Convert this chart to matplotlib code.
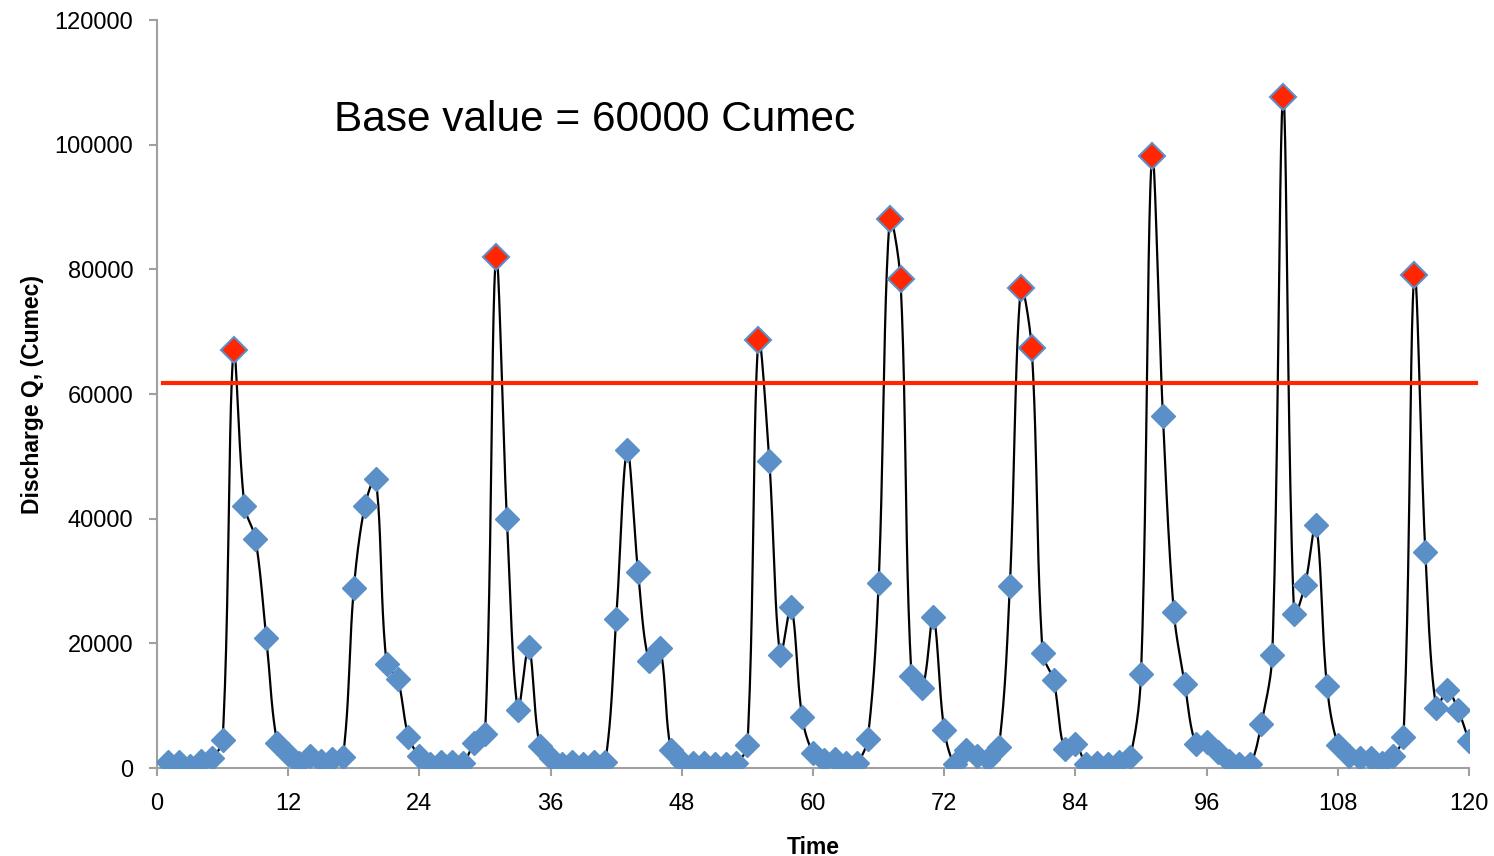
import numpy as np
import matplotlib
matplotlib.use("Agg")
import matplotlib.pyplot as plt

plt.rcParams['font.family'] = ['Liberation Sans', 'DejaVu Sans']

# discharge readings, one per time step (1..120)
time = list(range(1, 121))
discharge = [
    1000, 1000, 300, 1100, 1600, 4500, 67000, 42000, 36800, 20800,
    4000, 2200, 800, 1900, 1100, 1400, 1700, 28800, 42000, 46400,
    16700, 14300, 5000, 1900, 600, 1000, 1000, 800, 4000, 5400,
    82000, 40000, 9300, 19400, 3500, 1600, 600, 1000, 600, 1000,
    1000, 23900, 51000, 31400, 17200, 19300, 2900, 1000, 800, 800,
    600, 600, 800, 3700, 68700, 49300, 18100, 25800, 8200, 2400,
    1300, 1400, 800, 800, 4700, 29700, 88000, 78400, 14800, 12800,
    24200, 6100, 600, 2900, 1900, 1400, 3400, 29200, 77000, 67400,
    18400, 14100, 3000, 3900, 600, 800, 600, 1000, 1800, 15100,
    98200, 56500, 25000, 13500, 3900, 4200, 2600, 1100, 600, 600,
    7100, 18100, 107600, 24700, 29400, 39000, 13200, 3700, 1900, 1600,
    1600, 800, 1900, 5000, 79100, 34700, 9600, 12500, 9300, 4300,
]
base_line = 61700
base_text = "Base value = 60000 Cumec"
xticks = list(range(0, 121, 12))
yticks = list(range(0, 120001, 20000))


def smooth(x, y, sx, sy, n=24):
    # bezier through the points with tangents weighted by segment length
    # (measured on screen), which is roughly what excel does for smoothed lines
    P = np.column_stack([np.asarray(x, float) * sx, np.asarray(y, float) * sy])
    m = len(P)
    out = [P[0]]
    t = np.linspace(0, 1, n)[1:, None]
    for i in range(m - 1):
        p1, p2 = P[i], P[i + 1]
        p0 = P[i - 1] if i > 0 else p1
        p3 = P[i + 2] if i + 2 < m else p2
        d01 = np.hypot(*(p1 - p0))
        d12 = np.hypot(*(p2 - p1))
        d23 = np.hypot(*(p3 - p2))
        f1 = d12 / (d01 + d12) if d01 + d12 > 0 else 0
        f2 = d12 / (d12 + d23) if d12 + d23 > 0 else 0
        c1 = p1 + (p2 - p0) * f1 / 3
        c2 = p2 - (p3 - p1) * f2 / 3
        seg = ((1 - t) ** 3) * p1 + 3 * ((1 - t) ** 2) * t * c1 \
            + 3 * (1 - t) * t ** 2 * c2 + t ** 3 * p2
        out.extend(seg)
    out = np.array(out)
    return out[:, 0] / sx, out[:, 1] / sy


fig = plt.figure(figsize=(14.94, 8.56), dpi=100)
ax = fig.add_axes([0.1051, 0.1028, 0.8782, 0.8738])

# pixels per data unit, so the curve is shaped on screen
cx, cy = smooth(time, discharge, 1312 / 120, 748 / 120000)
ax.plot(cx, cy, color='black', lw=1.6, zorder=2)

t_arr = np.array(time)
q_arr = np.array(discharge)
low = q_arr <= base_line
ax.plot(t_arr[low], q_arr[low], ls='none', marker='D', ms=12,
        mfc='#5b8fc8', mec='#5b8fc8', zorder=3)
ax.plot(t_arr[~low], q_arr[~low], ls='none', marker='D', ms=13,
        mfc='#ff2600', mec='#5b8fc8', mew=1.5, zorder=4)

ax.plot([0.55, 120.6], [base_line, base_line], color='#ff2600', lw=3,
        zorder=5, clip_on=False)

ax.text(16.2, 104000, base_text, fontsize=30.5, va='center', ha='left')

ax.set_xlim(0, 120)
ax.set_ylim(0, 120000)
ax.set_xticks(xticks)
ax.set_yticks(yticks)
ax.tick_params(labelsize=17, color='#a0a0a0', length=6, width=1.5)
ax.tick_params(axis='y', pad=11)
ax.tick_params(axis='x', pad=12)
for s in ['top', 'right']:
    ax.spines[s].set_visible(False)
for s in ['left', 'bottom']:
    ax.spines[s].set_color('#a0a0a0')
    ax.spines[s].set_linewidth(1.5)

ax.set_xlabel("Time", fontsize=16.5, fontweight='bold', labelpad=15)
ax.set_ylabel("Discharge Q, (Cumec)", fontsize=16.5, fontweight='bold', labelpad=8)

fig.savefig("out.png", dpi=100)
